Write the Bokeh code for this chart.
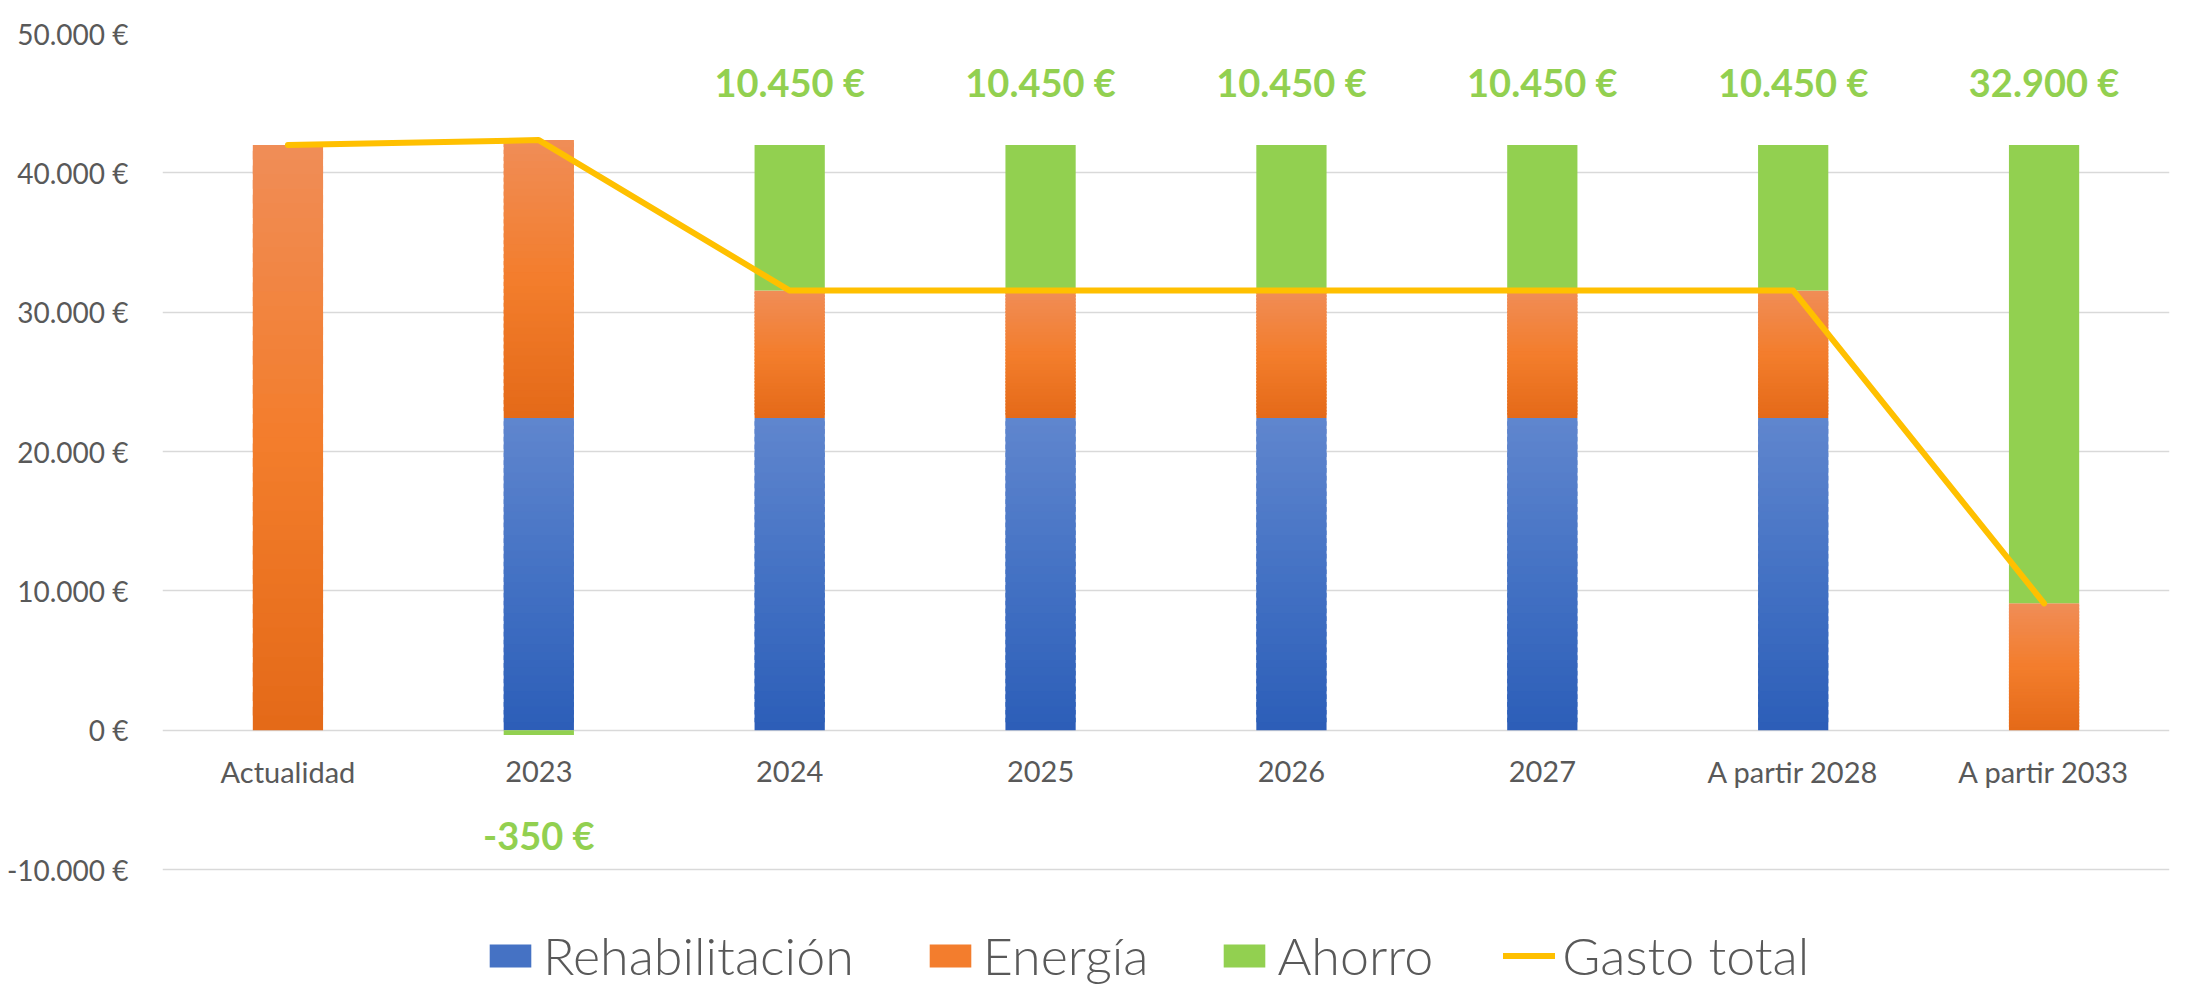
from bokeh.plotting import figure
from bokeh.models import (ColumnDataSource, FactorRange, Range1d, FixedTicker,
                          Legend, LegendItem)
from bokeh.core.properties import value
from bokeh.embed import file_html
from bokeh.resources import INLINE

# ---------------- data ----------------
categories = ["Actualidad", "2023", "2024", "2025", "2026", "2027",
              "A partir 2028", "A partir 2033"]
rehabilitacion = [0, 22400, 22400, 22400, 22400, 22400, 22400, 0]
energia = [42000, 19950, 9150, 9150, 9150, 9150, 9150, 9100]
ahorro = [0, -350, 10450, 10450, 10450, 10450, 10450, 32900]
gasto_total = [42000, 42350, 31550, 31550, 31550, 31550, 31550, 9100]
y_ticks = [-10000, 0, 10000, 20000, 30000, 40000, 50000]


def eur(v):
    return f"{v:,}".replace(",", ".") + " €"


y_tick_labels = {t: eur(t) for t in y_ticks}

# ---------------- styling ----------------
FONT = "Lato"
LEGEND_FONT = "Lato Light"
GREY = "#595959"
BLUE_STOPS = [(0.0, (96, 134, 206)), (0.5, (68, 114, 196)), (1.0, (44, 94, 184))]
ORANGE_STOPS = [(0.0, (240, 141, 87)), (0.5, (243, 125, 44)), (1.0, (228, 106, 24))]
GREEN = "#92D050"
BAR_W = 0.28

# pixel geometry of plot frame
TOP_PX, M50_PX, MM10_PX, H = 33, 33, 869, 987
ppu = (MM10_PX - M50_PX) / 60000.0
y_end = 50000
y_start = y_end - (H - TOP_PX) / ppu


def interp(stops, p):
    for (p0, c0), (p1, c1) in zip(stops, stops[1:]):
        if p0 <= p <= p1:
            f = (p - p0) / (p1 - p0)
            return "#%02x%02x%02x" % tuple(int(round(a + (b - a) * f)) for a, b in zip(c0, c1))
    return "#%02x%02x%02x" % stops[-1][1]


def gradient_source(cats, bottoms, tops, stops, n=40):
    xs, bs, ts, cs = [], [], [], []
    for c, b, t in zip(cats, bottoms, tops):
        if t == b:
            continue
        h = (t - b) / n
        for k in range(n):
            sb = b + h * k
            st = min(t, sb + h * 1.6) if k < n - 1 else t
            p = 1.0 - (k + 0.5) / n  # 0 = top, 1 = bottom
            xs.append(c); bs.append(sb); ts.append(st); cs.append(interp(stops, p))
    return ColumnDataSource(dict(x=xs, bottom=bs, top=ts, color=cs))


p = figure(width=2189, height=987,
           x_range=FactorRange(*categories),
           y_range=Range1d(y_start, y_end),
           x_axis_location=None,
           toolbar_location=None, output_backend="svg",
           min_border_left=162, min_border_right=20,
           min_border_top=TOP_PX, min_border_bottom=0,
           outline_line_color=None, background_fill_color="white",
           border_fill_color="white")

# stacks
reh_b = [0] * len(categories)
reh_t = rehabilitacion
ene_b = reh_t
ene_t = [a + b for a, b in zip(reh_t, energia)]
aho_b = [t if a >= 0 else 0 for t, a in zip(ene_t, ahorro)]
aho_t = [t + a if a >= 0 else a for t, a in zip(ene_t, ahorro)]

src_reh = gradient_source(categories, reh_b, reh_t, BLUE_STOPS)
src_ene = gradient_source(categories, ene_b, ene_t, ORANGE_STOPS)
src_aho = ColumnDataSource(dict(
    x=[c for c, a in zip(categories, ahorro) if a != 0],
    bottom=[b for b, a in zip(aho_b, ahorro) if a != 0],
    top=[t for t, a in zip(aho_t, ahorro) if a != 0]))

r_reh = p.vbar(x="x", bottom="bottom", top="top", width=BAR_W, source=src_reh,
               fill_color="color", line_color=None)
r_ene = p.vbar(x="x", bottom="bottom", top="top", width=BAR_W, source=src_ene,
               fill_color="color", line_color=None)
r_aho = p.vbar(x="x", bottom="bottom", top="top", width=BAR_W, source=src_aho,
               fill_color=GREEN, line_color=None)

r_line = p.line(x=categories, y=gasto_total, line_color="#FFC000", line_width=6,
                line_join="round", line_cap="round")

# data labels for Ahorro
lab_src = ColumnDataSource(dict(
    x=[c for c, a in zip(categories, ahorro) if a != 0],
    y=[46500 if a > 0 else -7500 for a in ahorro if a != 0],
    text=[eur(a) for a in ahorro if a != 0]))
p.text(x="x", y="y", text="text", source=lab_src, text_font=value(FONT),
       text_font_style="bold", text_font_size="38px", text_color=GREEN,
       text_align="center", text_baseline="middle")

# category labels next to the zero axis
cat_src = ColumnDataSource(dict(x=categories, y=[0] * len(categories), text=categories))
p.text(x="x", y="y", text="text", source=cat_src, y_offset=41,
       text_font=value(FONT), text_font_size="29px", text_color=GREY,
       text_align="center", text_baseline="middle")

# y axis
yax = p.yaxis[0]
yax.ticker = FixedTicker(ticks=y_ticks)
yax.major_label_overrides = y_tick_labels
yax.major_label_text_font = FONT
yax.major_label_text_font_size = "28px"
yax.major_label_text_color = GREY
yax.axis_line_color = None
yax.major_tick_line_color = None
yax.minor_tick_line_color = None
yax.major_label_standoff = 28

p.ygrid.grid_line_color = "#D9D9D9"
p.ygrid.grid_line_width = 1.5
p.xgrid.grid_line_color = None

legend = Legend(items=[
    LegendItem(label="Rehabilitación", renderers=[r_reh], index=20),
    LegendItem(label="Energía", renderers=[r_ene], index=20),
    LegendItem(label="Ahorro", renderers=[r_aho], index=0),
    LegendItem(label="Gasto total", renderers=[r_line]),
], orientation="horizontal", location=(322, 1),
    label_text_font=LEGEND_FONT, label_text_font_size="52px", label_text_color=GREY,
    glyph_width=52, glyph_height=29, spacing=70, label_standoff=7,
    padding=0, margin=0, border_line_color=None, background_fill_alpha=0)
p.add_layout(legend)

open("out.html", "w").write(file_html(p, INLINE))
